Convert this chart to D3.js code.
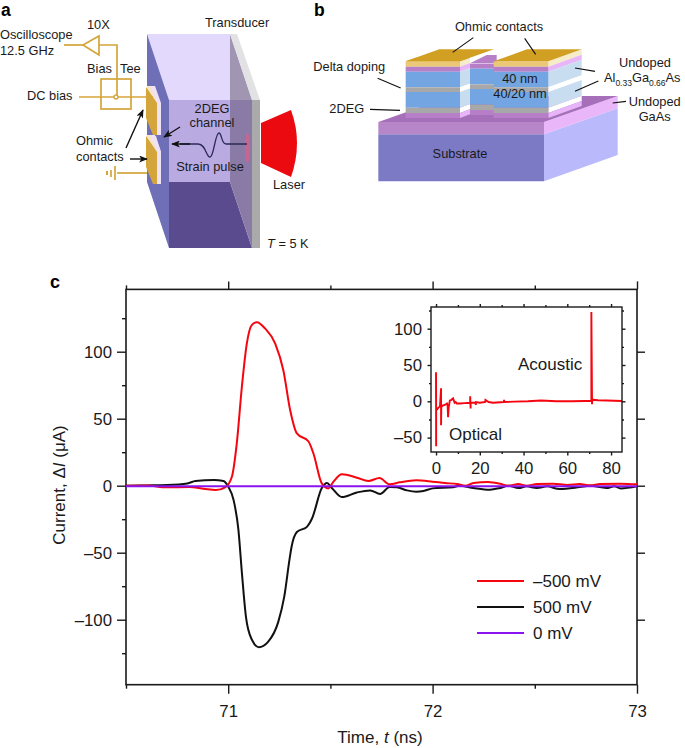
<!DOCTYPE html>
<html><head><meta charset="utf-8">
<script src="https://cdnjs.cloudflare.com/ajax/libs/d3/7.8.5/d3.min.js"></script>
<style>html,body{margin:0;background:#fff}svg{display:block}text{font-family:"Liberation Sans",Arial,sans-serif;fill:#1a1a1a}</style>
</head><body><svg id="c" width="685" height="748"></svg>
<script>
// ---- panel c data ----
const redTime=[70.5,70.6,70.7,70.81,70.88,70.94,70.985,71.018,71.042,71.067,71.091,71.116,71.14,71.18,71.23,71.27,71.303,71.336,71.393,71.417,71.458,71.49,71.515,71.556,71.63,71.686,71.74,71.79,71.84,71.92,72,72.06,72.12,72.16,72.2,72.27,72.33,72.37,72.42,72.46,72.51,72.59,72.66,72.72,72.77,72.82,72.92,73];
const redValues=[0,0.1,-1.2,-1,-2.2,-3.2,-1.2,6.7,31.6,74,106,120,122,117.4,106,86,56.5,39,33,24,1.7,-2,3,8.5,6,3.5,5.7,1,2.5,4,3,2,1.2,0,2,2.7,1.5,0,1.2,0,1.2,1.5,0.5,1.2,0.3,1.2,1.5,1];
const blackTime=[70.5,70.6,70.7,70.8,70.84,70.93,70.977,71,71.026,71.05,71.067,71.087,71.116,71.15,71.195,71.245,71.274,71.3,71.31,71.336,71.385,71.41,71.458,71.483,71.507,71.556,71.63,71.695,71.743,71.79,71.825,71.875,71.92,71.955,72,72.1,72.13,72.2,72.28,72.33,72.37,72.42,72.46,72.51,72.56,72.62,72.72,72.77,72.85,72.89,72.92,73];
const blackValues=[0,0.2,0.5,1.7,3.5,4.2,3.5,-0.7,-10.5,-33,-65,-98,-115,-120.5,-116.5,-101.6,-83,-55,-45.6,-34.5,-30.7,-24.5,-1.8,2,-1.7,-8.5,-5,-3.5,-6.2,-1,-1.2,-3.5,-4.5,-4,-2,-1.2,0,-1.7,-3,-1.7,0,-1.7,-0.5,-1.7,-0.5,-2.5,-1,0,-1.7,-0.5,-2,-0.5];
const purpleTime=[70.5,73];
const purpleValues=[-0.5,-0.5];
const xMajor=[71,72,73], xMinor=[70.5,71.5,72.5];
const yMajor=[100,50,0,-50,-100], yMinor=[125,75,25,-25,-75,-125];
const legendLabels=["\u2013500 mV","500 mV","0 mV"];
const legendColors=["#f5050f","#111111","#8a14f0"];
// ---- inset data ----
const insetTime=[-0.3,0,0,0.05,0.05,0.5,1,1.8,2.3,2.3,2.4,3,4,5,5.3,5.5,5.8,6.3,7,7.8,8.5,9,9.5,11,13,15.6,15.6,15.8,15.8,16.2,18,18.2,18.2,20,22.5,22.6,24,26,31,31.1,31.2,36,42,48,55,62,68,70.5,71,71,71.3,71.3,71.5,72,74,78,85];
const insetValues=[5,5,40,-62,-12,-11,-9,-7,18,-33,-8,-6,-5,-3,-6,-22,-8,1,2,4,-2,-1,-3,-3,-2.5,-2,7,-10,-2,-2,-2,-5,-1,-2,-1,2,-1,-2,-1,2,-1,-0.5,0,1,0,0,0.5,0.5,0,123,-4,4,1,2,1.5,1,0.5];
const insetXMajor=[0,20,40,60,80], insetXMinor=[10,30,50,70];
const insetYMajor=[100,50,0,-50], insetYMinor=[125,75,25,-25];

const svg=d3.select("#c");
const txt=(x,y,s,o={})=>{const t=svg.append("text").attr("x",x).attr("y",y).attr("font-size",o.size||12.8)
  .attr("text-anchor",o.anchor||"start").text(s);if(o.weight)t.attr("font-weight",o.weight);return t;};
const poly=(pts,fill,g=svg)=>g.append("polygon").attr("points",pts.map(p=>p.join(",")).join(" ")).attr("fill",fill);
const seg=(pts,stroke,w,g=svg)=>g.append("path").attr("d",d3.line()(pts)).attr("fill","none").attr("stroke",stroke).attr("stroke-width",w);
const defs=svg.append("defs");
const mk=defs.append("marker").attr("id","arr").attr("viewBox","0 0 10 8").attr("refX",9).attr("refY",4)
  .attr("markerWidth",9).attr("markerHeight",7).attr("markerUnits","userSpaceOnUse").attr("orient","auto");
mk.append("path").attr("d","M0,0L10,4L0,8L2.5,4Z").attr("fill","#111");
const arrow=(a,b)=>seg([a,b],"#111",1.4).attr("marker-end","url(#arr)");

// ---- panel labels ----
txt(1,16,"a",{size:17.5,weight:"bold"}).style("fill","#000");
txt(314,16,"b",{size:17.5,weight:"bold"}).style("fill","#000");
txt(50,288,"c",{size:18,weight:"bold"}).style("fill","#000");

// ---- panel a ----
(function(){
 const gold="#d4a53a";
 poly([[147,34],[230,34],[252,100],[169,100]],"#e3d9fc");
 poly([[147,34],[169,100],[169,248],[147,182]],"#6f6fb8");
 poly([[169,100],[230,100],[230,182],[169,182]],"#b9aae2");
 poly([[169,182],[230,182],[252,248],[169,248]],"#5a4b8e");
 poly([[230,34],[252,100],[230,100]],"#a196b2");
 poly([[230,100],[252,100],[252,248],[230,182]],"#8a7aa6");
 poly([[230,34],[237,34],[260,100],[252,100]],"#e2e2e4");
 poly([[252,100],[260,100],[260,248],[252,248]],"#aaaaaa");
 svg.append("ellipse").attr("cx",247.5).attr("cy",148).attr("rx",2.5).attr("ry",15).attr("fill","#d8608c").attr("opacity",.75);
 svg.append("path").attr("d","M261,123L291,110Q303,143 291,177L261,163Z").attr("fill","#ea0a10");
 // device contacts
 poly([[151,136],[156,136],[161,152],[155,152]],"#e6d6f2");
 [86,135].forEach(a=>{
  poly([[148,a],[155,a],[161,a+17],[161,a+49],[155,a+49],[148,a+30]],"#f0e2f6");
  poly([[147,a],[150,a],[157,a+17],[157,a+49],[154,a+49],[147,a+30]],"#f5e6c4");
  poly([[146,a+1],[157,a+17],[157,a+49],[153,a+49],[146,a+32]],gold);
 });
 // circuit
 seg([[64,45],[83,45]],gold,1.7);
 svg.append("path").attr("d","M83,45L99,36V55Z").attr("fill","#fff").attr("stroke",gold).attr("stroke-width",1.7);
 seg([[99,45],[117,45],[117,97]],gold,1.7);
 svg.append("rect").attr("x",101).attr("y",79).attr("width",30).attr("height",30).attr("fill","none").attr("stroke",gold).attr("stroke-width",1.7);
 seg([[79,97],[153,97]],gold,1.7);
 svg.append("circle").attr("cx",116).attr("cy",97).attr("r",2).attr("fill","#fff").attr("stroke",gold).attr("stroke-width",1.3);
 seg([[117,173],[147,173]],gold,1.7);
 seg([[115,166],[115,180]],gold,1.7);
 seg([[111,170],[111,177]],gold,1.7);
 seg([[107,171],[107,175]],gold,2);
 // arrows
 arrow([126,148],[143,110]);
 arrow([130,159],[147,159]);
 arrow([180,127],[164,137]);
 svg.append("path").attr("d","M247,144H226C221,144 222,133 219,133C215,133 214,157 210,157C206,157 206,144 198,144H180").attr("fill","none").attr("stroke","#2d2a55").attr("stroke-width",1.3);
 arrow([190,144],[172,144]);
 // text
 txt(87,29,"10X");
 txt(0,39,"Oscilloscope");
 txt(0,55,"12.5 GHz");
 txt(205,27,"Transducer");
 txt(87,73,"Bias");
 txt(120,73,"Tee");
 txt(27,100,"DC bias");
 txt(76,145,"Ohmic");
 txt(76,161,"contacts");
 txt(212,113,"2DEG",{anchor:"middle"});
 txt(212,127,"channel",{anchor:"middle"});
 txt(210,171,"Strain pulse",{anchor:"middle"});
 txt(273,189,"Laser");
 const t=txt(267,248,"");
 t.append("tspan").attr("font-style","italic").text("T");
 t.append("tspan").text(" = 5 K");
})();

// ---- panel b ----
(function(){
 const X=z=>310+z/3,Y=z=>z/3;
 const P=a=>a.map(([x,y])=>[X(x),Y(y)]);
 poly(P([[205,403],[702,403],[702,544],[205,544]]),"#7c79c5");
 poly(P([[702,403],[923,325],[923,465],[702,544]]),"#b9b9fc");
 poly(P([[205,366],[702,366],[702,403],[205,403]]),"#b686c9");
 poly(P([[702,366],[923,288],[923,325],[702,403]]),"#e9b6f9");
 poly(P([[205,366],[702,366],[923,288],[426,288]]),"#a570b9");
 const bands=[[184,200,"#eac878","#f6ecc8"],[200,215,"#b87fc9","#e8b6f8"],[215,262,"#72a5e1","#c9ddf1"],[262,276,"#a8a8a8","#ffffff"],[276,323,"#72a5e1","#c9ddf1"],[323,339,"#a8a8a8","#ffffff"],[339,354,"#b87fc9","#e8b6f8"]];
 const block=(x0,x1,dx,dy)=>{
  bands.forEach(b=>{
   poly(P([[x1,b[0]],[x1+dx,b[0]-dy],[x1+dx,b[1]-dy],[x1,b[1]]]),b[3]);
   poly(P([[x0,b[0]],[x1,b[0]],[x1,b[1]],[x0,b[1]]]),b[2]);
  });
  poly(P([[x0,184],[x1,184],[x1+dx,184-dy],[x0+dx,184-dy]]),"#d1a023");
 };
 poly(P([[480,190],[530,165],[560,165],[560,190]]),"#b87fc9");
 bands.slice(1).forEach(b=>poly(P([[480,b[0]-9],[552,b[0]-9],[552,b[1]-9],[480,b[1]-9]]),b[2]));
 block(551,715,100,36);
 block(287,450,30,11);
 poly(P([[450,184],[552,148],[388,148],[287,184]]),"#d1a023");
 const L=(a,b)=>seg(P([a,b]),"#111",1.1);
 L([490,113],[428,157]);L([644,115],[677,163]);L([203,235],[272,264]);L([180,328],[270,331]);
 L([795,204],[855,214]);L([795,274],[865,243]);L([908,309],[948,304]);
 txt(X(567),Y(92),"Ohmic contacts",{anchor:"middle"});
 txt(X(10),Y(212),"Delta doping");
 txt(X(58),Y(338),"2DEG");
 txt(X(630),Y(249),"40 nm",{anchor:"middle"});
 txt(X(630),Y(295),"40/20 nm",{anchor:"middle"});
 txt(X(1005),Y(200),"Undoped",{anchor:"middle"});
 const t=txt(X(882),Y(247),"Al");
 t.append("tspan").attr("font-size",8.5).attr("dy",3.5).text("0.33");
 t.append("tspan").attr("dy",-3.5).text("Ga");
 t.append("tspan").attr("font-size",8.5).attr("dy",3.5).text("0.66");
 t.append("tspan").attr("dy",-3.5).text("As");
 txt(X(1034),Y(317),"Undoped",{anchor:"middle"});
 txt(X(1034),Y(363),"GaAs",{anchor:"middle"});
 txt(X(450),Y(475),"Substrate",{anchor:"middle"});
})();

// ---- panel c ----
const x=d3.scaleLinear().domain([70.5,73]).range([126,637]);
const y=d3.scaleLinear().domain([0,100]).range([485.7,351.7]);
const yB=y(-148.5), yT=y(146.5);
const fmt=d=>String(d).replace("-","\u2013");
function axisG(gen,tx,ty,size){
 const g=svg.append("g").attr("transform",`translate(${tx},${ty})`).call(gen);
 g.selectAll("path.domain").remove();
 g.selectAll("line").attr("stroke","#1a1a1a").attr("stroke-width",1.4);
 g.selectAll("text").attr("font-size",size).style("fill","#1a1a1a").attr("font-family",'"Liberation Sans",Arial,sans-serif');
 return g;
}
const ax=(f,s,vals,lab,len,pad=6)=>f(s).tickValues(vals).tickSize(len).tickPadding(pad).tickFormat(lab?fmt:"");
axisG(ax(d3.axisBottom,x,xMajor,true,9,11),0,yB,16.8);
axisG(ax(d3.axisBottom,x,xMinor,false,4),0,yB,16.8);
axisG(ax(d3.axisTop,x,xMajor,false,8),0,yT,16.8);
axisG(ax(d3.axisTop,x,xMinor,false,4),0,yT,16.8);
axisG(ax(d3.axisLeft,y,yMajor,true,9,5),126,0,16.8);
axisG(ax(d3.axisLeft,y,yMinor,false,4),126,0,16.8);
axisG(ax(d3.axisRight,y,yMajor,false,8),637,0,16.8);
svg.append("rect").attr("x",126).attr("y",yT).attr("width",511).attr("height",yB-yT).attr("fill","none").attr("stroke","#1a1a1a").attr("stroke-width",1.6);

const line=d3.line().x(d=>x(d[0])).y(d=>y(d[1])).curve(d3.curveMonotoneX);
const series=[[blackTime,blackValues,legendColors[1]],[redTime,redValues,legendColors[0]],[purpleTime,purpleValues,legendColors[2]]];
svg.selectAll("path.s").data(series).join("path").attr("class","s")
 .attr("d",s=>line(d3.zip(s[0],s[1]))).attr("fill","none").attr("stroke",s=>s[2]).attr("stroke-width",2);

const yl=svg.append("text").attr("transform","translate(65,485) rotate(-90)").attr("text-anchor","middle").attr("font-size",17);
yl.append("tspan").text("Current, \u0394");
yl.append("tspan").attr("font-style","italic").text("I");
yl.append("tspan").text(" (\u03bcA)");
const xl=txt(380,743,"",{size:17,anchor:"middle"});
xl.append("tspan").text("Time, ");
xl.append("tspan").attr("font-style","italic").text("t");
xl.append("tspan").text(" (ns)");

const legY=d3.scalePoint().domain(legendLabels).range([581,633]);
legendLabels.forEach((l,i)=>{
 seg([[477,legY(l)],[524,legY(l)]],legendColors[i],2);
 txt(533,legY(l)+6,l,{size:17});
});

// ---- inset ----
const ix=d3.scaleLinear().domain([-2.3,85]).range([431,622]);
const iy=d3.scaleLinear().domain([0,100]).range([401.3,328.7]);
const iB=452, iT=307;
axisG(ax(d3.axisBottom,ix,insetXMajor,true,3.5,6.5),0,iB,16.8);
axisG(ax(d3.axisBottom,ix,insetXMinor,false,2),0,iB,16.8);
axisG(ax(d3.axisTop,ix,insetXMajor,false,3),0,iT,16.8);
axisG(ax(d3.axisTop,ix,insetXMinor,false,2),0,iT,16.8);
axisG(ax(d3.axisLeft,iy,insetYMajor,true,3.5,5.5),431,0,16.8);
axisG(ax(d3.axisLeft,iy,insetYMinor,false,2),431,0,16.8);
axisG(ax(d3.axisRight,iy,insetYMajor,false,3.5),622,0,16.8);
axisG(ax(d3.axisRight,iy,insetYMinor,false,2),622,0,16.8);
svg.append("path").attr("d",d3.line().x(d=>ix(d[0])).y(d=>iy(d[1]))(d3.zip(insetTime,insetValues)))
 .attr("fill","none").attr("stroke",legendColors[0]).attr("stroke-width",1.9);
svg.append("rect").attr("x",431).attr("y",iT).attr("width",191).attr("height",iB-iT).attr("fill","none").attr("stroke","#1a1a1a").attr("stroke-width",1.4);
txt(518,370,"Acoustic",{size:17});
txt(449,440,"Optical",{size:17});
</script></body></html>
